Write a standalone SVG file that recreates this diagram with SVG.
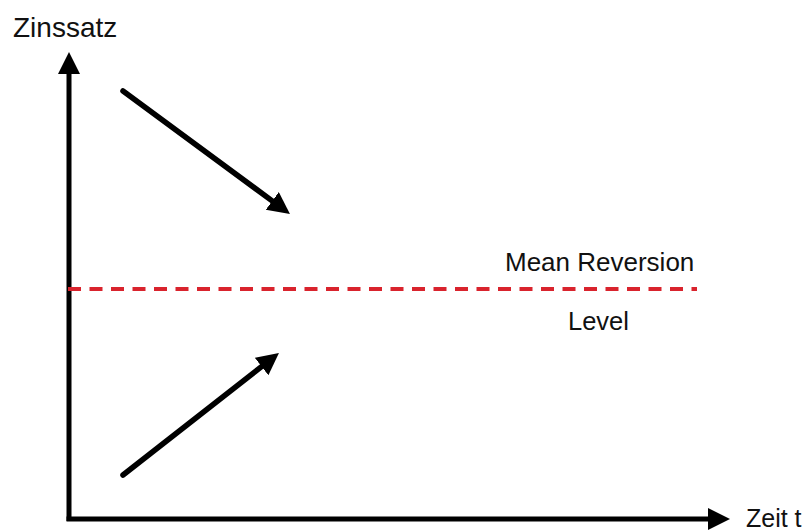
<svg xmlns="http://www.w3.org/2000/svg" width="812" height="532" viewBox="0 0 812 532">
  <style>
    .lbl { font-family: "Liberation Sans", Arial, sans-serif; font-size: 26px; fill: #111; }
    .ax { stroke: #000; stroke-width: 5; fill: none; }
    .arr { stroke: #000; stroke-width: 5.5; fill: none; stroke-linecap: round; }
    .mean { stroke: #d9232d; stroke-width: 4; stroke-dasharray: 13 8.5; fill: none; }
  </style>
  <defs>
    <marker id="head" markerUnits="userSpaceOnUse" markerWidth="24" markerHeight="24" refX="10" refY="11" orient="auto">
      <path d="M0,0 L22,11 L0,22 z" fill="#000"/>
    </marker>
  </defs>
  <rect width="812" height="532" fill="#fff"/>
  <g id="axes">
    <line class="ax" x1="69" y1="521" x2="69" y2="64" marker-end="url(#head)"/>
    <line class="ax" x1="66.5" y1="519" x2="718" y2="519" marker-end="url(#head)"/>
  </g>
  <g id="mean-level">
    <line class="mean" x1="68" y1="289" x2="697" y2="289"/>
  </g>
  <g id="connectors">
    <line class="arr" x1="123" y1="91" x2="280.3" y2="206.9" marker-end="url(#head)"/>
    <line class="arr" x1="123" y1="475" x2="269.5" y2="360.4" marker-end="url(#head)"/>
  </g>
  <g id="labels">
    <text class="lbl" x="13" y="37" style="font-size:28px">Zinssatz</text>
    <text class="lbl" x="505" y="271">Mean Reversion</text>
    <text class="lbl" x="568" y="330" style="font-size:25.5px">Level</text>
    <text class="lbl" x="746" y="527" style="font-size:25px">Zeit t</text>
  </g>
</svg>
